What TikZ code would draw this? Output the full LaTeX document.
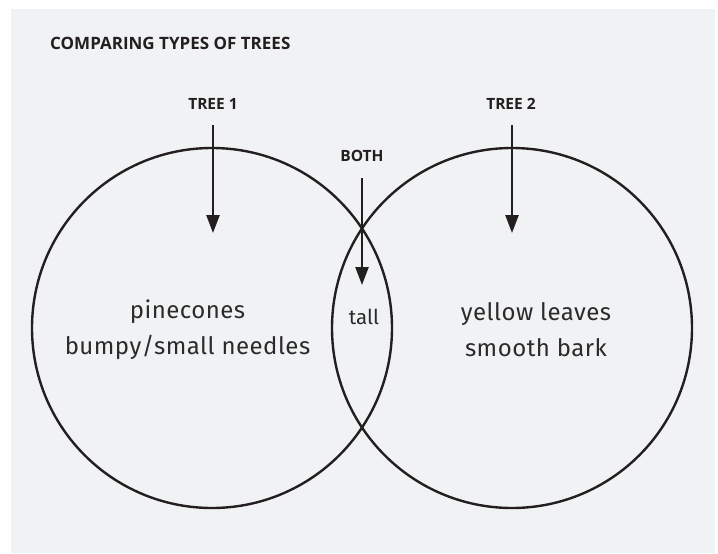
\documentclass[tikz,border=0pt]{standalone}
\usepackage{fontspec}
\setmainfont{Fira Sans}
\newfontfamily\headfont{Open Sans}
\newfontfamily\bodyfont[LetterSpace=2]{Fira Sans}
\usetikzlibrary{arrows.meta}
\definecolor{bg}{HTML}{F1F2F4}
\definecolor{ink}{HTML}{231F20}
\definecolor{txt}{HTML}{2B2B2B}
\tikzset{
  ring/.style={draw=ink, line width=2.4pt, circle, minimum size=360pt, inner sep=0pt},
  arrowline/.style={draw=ink, line width=2.4pt, -{Triangle[width=13pt,length=18pt]}},
  headlabel/.style={font=\headfont\bfseries\fontsize{15.5}{17}\selectfont, text=ink, inner sep=0pt},
  bodytext/.style={font=\bodyfont\fontsize{24}{36}\selectfont, text=txt, align=center, inner sep=0pt},
}
\begin{document}
\begin{tikzpicture}[x=1pt,y=-1pt]
\useasboundingbox (0,0) rectangle (718,554);
\fill[bg] (11,9) rectangle (715,553);
\node[anchor=west, font=\headfont\bfseries\fontsize{17}{19}\selectfont, text=ink, inner sep=0pt] (title) at (50,43.5) {COMPARING TYPES OF TREES};
\node[ring] (left) at (212,328) {};
\node[ring] (right) at (512,328) {};
\node[headlabel] (t1) at (213,104) {TREE 1};
\node[headlabel] (t2) at (511,104) {TREE 2};
\node[headlabel] (both) at (362,156) {BOTH};
\coordinate (t1s) at (213,125);
\coordinate (t1e) at (213,233);
\coordinate (t2s) at (512,125);
\coordinate (t2e) at (512,233);
\coordinate (bs) at (362,178);
\coordinate (be) at (362,285);
\draw[arrowline] (t1s) -- (t1e);
\draw[arrowline] (t2s) -- (t2e);
\draw[arrowline] (bs) -- (be);
\node[bodytext] (ltext) at (187.5,330) {pinecones\\bumpy/small needles};
\node[bodytext] (rtext) at (536,330) {yellow leaves\\smooth bark};
\node[text=txt, inner sep=0pt, font=\fontsize{20.5}{24}\selectfont] (mtext) at (364,317) {tall};
\end{tikzpicture}
\end{document}
